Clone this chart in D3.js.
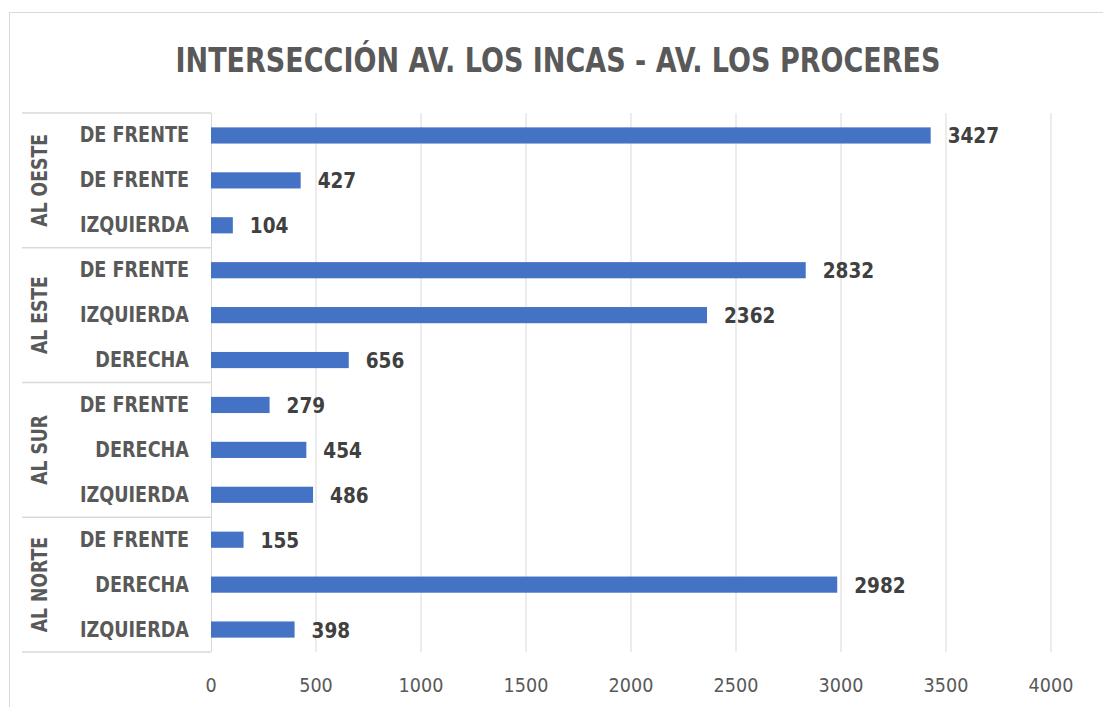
<!DOCTYPE html>
<html>
<head>
<meta charset="utf-8">
<script src="https://cdn.jsdelivr.net/npm/d3@7"></script>
<style>
  body { margin: 0; background: #fff; }
  text { font-family: "DejaVu Sans", "Liberation Sans", sans-serif; }
</style>
</head>
<body>
<script>
'use strict'
const groups = ["AL OESTE", "AL ESTE", "AL SUR", "AL NORTE"];
const categories = [
    "DE FRENTE", "DE FRENTE", "IZQUIERDA",
    "DE FRENTE", "IZQUIERDA", "DERECHA",
    "DE FRENTE", "DERECHA", "IZQUIERDA",
    "DE FRENTE", "DERECHA", "IZQUIERDA"
];
const values = [3427, 427, 104, 2832, 2362, 656, 279, 454, 486, 155, 2982, 398];
const ticks = [0, 500, 1000, 1500, 2000, 2500, 3000, 3500, 4000];

const width = 1103, height = 707;
const plotLeft = 211, plotRight = 1051, plotTop = 113, plotBottom = 652;

const svg = d3.select("body").append("svg")
    .attr("width", width)
    .attr("height", height);

// squeeze text horizontally, like the narrow font in the original
function narrow(sel, k) {
    sel.each(function() {
        const w = this.getComputedTextLength();
        d3.select(this).attr("textLength", w * k).attr("lengthAdjust", "spacingAndGlyphs");
    });
}

// chart border
svg.append("rect")
    .attr("x", 9.5).attr("y", 12.5)
    .attr("width", 1120).attr("height", 720)
    .attr("fill", "none")
    .attr("stroke", "#d9d9d9");

svg.append("text")
    .attr("transform", "translate(558,72) scale(0.795,1)")
    .attr("text-anchor", "middle")
    .attr("font-size", "34px")
    .attr("font-weight", "bold")
    .attr("fill", "#595959")
    .text("INTERSECCIÓN AV. LOS INCAS - AV. LOS PROCERES");

const x = d3.scaleLinear().domain([0, 4000]).range([plotLeft, plotRight]);
const y = d3.scaleBand().domain(d3.range(values.length)).range([plotTop, plotBottom]).paddingInner(0.64).paddingOuter(0.32);
const row = d3.scaleBand().domain(d3.range(values.length)).range([plotTop, plotBottom]);

// gridlines
svg.append("g").selectAll("line")
    .data(ticks.slice(1))
    .enter().append("line")
    .attr("x1", d => x(d)).attr("x2", d => x(d))
    .attr("y1", plotTop).attr("y2", plotBottom)
    .attr("stroke", "#d9d9d9");

// x tick labels
svg.append("g").selectAll("text")
    .data(ticks)
    .enter().append("text")
    .attr("x", d => x(d))
    .attr("y", 692)
    .attr("text-anchor", "middle")
    .attr("font-size", "20px")
    .attr("fill", "#595959")
    .text(d => d)
    .call(narrow, 0.88);

// category axis line and group dividers
svg.append("line")
    .attr("x1", plotLeft + 0.5).attr("x2", plotLeft + 0.5)
    .attr("y1", plotTop).attr("y2", plotBottom)
    .attr("stroke", "#d9d9d9");
svg.append("g").selectAll("line")
    .data(d3.range(groups.length + 1))
    .enter().append("line")
    .attr("x1", 22).attr("x2", plotLeft)
    .attr("y1", d => d < groups.length ? row(d * 3) : plotBottom)
    .attr("y2", d => d < groups.length ? row(d * 3) : plotBottom)
    .attr("stroke", "#d9d9d9")
    .attr("stroke-width", 1.5);

// bars
svg.append("g").selectAll("rect")
    .data(values)
    .enter().append("rect")
    .attr("x", x(0))
    .attr("y", (d, i) => y(i))
    .attr("width", d => x(d) - x(0))
    .attr("height", y.bandwidth())
    .attr("fill", "#4472c4");

// data labels
svg.append("g").selectAll("text")
    .data(values)
    .enter().append("text")
    .attr("x", d => x(d) + 17)
    .attr("y", (d, i) => row(i) + row.bandwidth() / 2 + 8)
    .attr("font-size", "21px")
    .attr("font-weight", "bold")
    .attr("fill", "#404040")
    .text(d => d)
    .call(narrow, 0.88);

// category labels
svg.append("g").selectAll("text")
    .data(categories)
    .enter().append("text")
    .attr("x", 189)
    .attr("y", (d, i) => row(i) + row.bandwidth() / 2 + 7)
    .attr("text-anchor", "end")
    .attr("font-size", "20.5px")
    .attr("font-weight", "bold")
    .attr("fill", "#595959")
    .text(d => d)
    .call(narrow, 0.86);

// group labels
svg.append("g").selectAll("text")
    .data(groups)
    .enter().append("text")
    .attr("transform", (d, i) => {
        const cy = row(i * 3) + row.bandwidth() * 1.5;
        return "translate(47," + cy + ") rotate(-90)";
    })
    .attr("text-anchor", "middle")
    .attr("font-size", "20.5px")
    .attr("font-weight", "bold")
    .attr("fill", "#595959")
    .text(d => d)
    .call(narrow, 0.84);
</script>
</body>
</html>
